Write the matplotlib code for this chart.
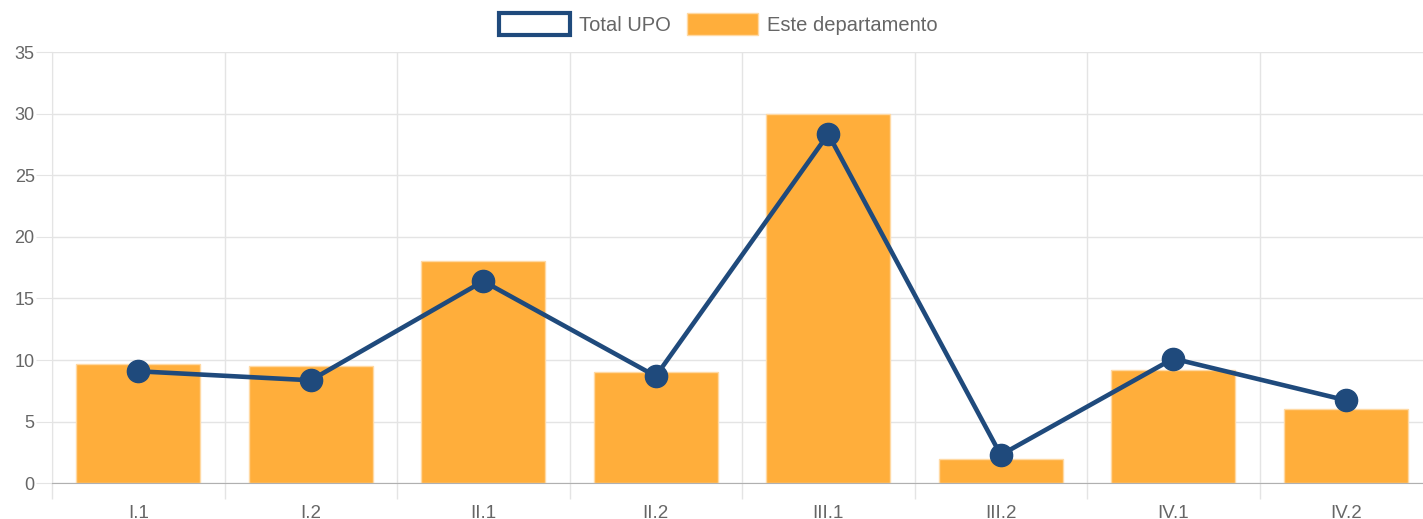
import matplotlib.pyplot as plt
from matplotlib.patches import Patch
import numpy as np

categories = ["I.1", "I.2", "II.1", "II.2", "III.1", "III.2", "IV.1", "IV.2"]
dept_values = [9.66, 9.55, 18.0, 9.0, 30.0, 2.0, 9.23, 6.0]
upo_values = [9.09, 8.36, 16.4, 8.69, 28.34, 2.3, 10.12, 6.74]
y_ticks = [0, 5, 10, 15, 20, 25, 30, 35]

navy = "#1f4a7c"
orange = "#ffae3b"
text_gray = "#666666"
grid_gray = "#e4e4e4"

plt.rcParams["font.family"] = ["Liberation Sans", "DejaVu Sans"]

fig = plt.figure(figsize=(14.23, 5.19), dpi=100)
ax = fig.add_axes([52 / 1423, 0.0688, 1380 / 1423, 0.8310])

x = np.arange(len(categories))
ax.bar(x, dept_values, width=0.72, color=orange, edgecolor="#ffd9a3",
       linewidth=1, zorder=2)
ax.plot(x, upo_values, color=navy, linewidth=3.3, marker="o", markersize=16,
        zorder=3)

ax.set_xlim(-0.5, len(categories) - 0.5)
ax.set_ylim(0, 35)
ax.set_yticks(y_ticks)
ax.set_xticks(x)
ax.set_xticklabels(categories)
ax.set_xticks(np.arange(len(categories) + 1) - 0.5, minor=True)

ax.tick_params(axis="x", which="major", length=0, pad=15.5, labelsize=13.5,
               labelcolor=text_gray)
ax.tick_params(axis="x", which="minor", length=11.5, color=grid_gray, width=1)
ax.tick_params(axis="y", length=11.5, color=grid_gray, pad=1, labelsize=13,
               labelcolor=text_gray)

ax.grid(axis="y", color=grid_gray, linewidth=1, zorder=0)
ax.grid(axis="x", which="minor", color=grid_gray, linewidth=1, zorder=0)
ax.set_axisbelow(True)

for side in ["top", "right"]:
    ax.spines[side].set_visible(False)
ax.spines["left"].set_color(grid_gray)
ax.spines["bottom"].set_color("#b0b0b0")

handles = [
    Patch(facecolor="white", edgecolor=navy, linewidth=3, label="Total UPO"),
    Patch(facecolor=orange, edgecolor="#ffd9a3", linewidth=1, label="Este departamento"),
]
fig.legend(handles=handles, loc="center", bbox_to_anchor=(0.505, 0.954),
           ncol=2, frameon=False, fontsize=14.5, labelcolor=text_gray,
           handlelength=3.53, handleheight=1.29, handletextpad=0.45,
           columnspacing=0.8)

fig.savefig("out.png", dpi=100)
